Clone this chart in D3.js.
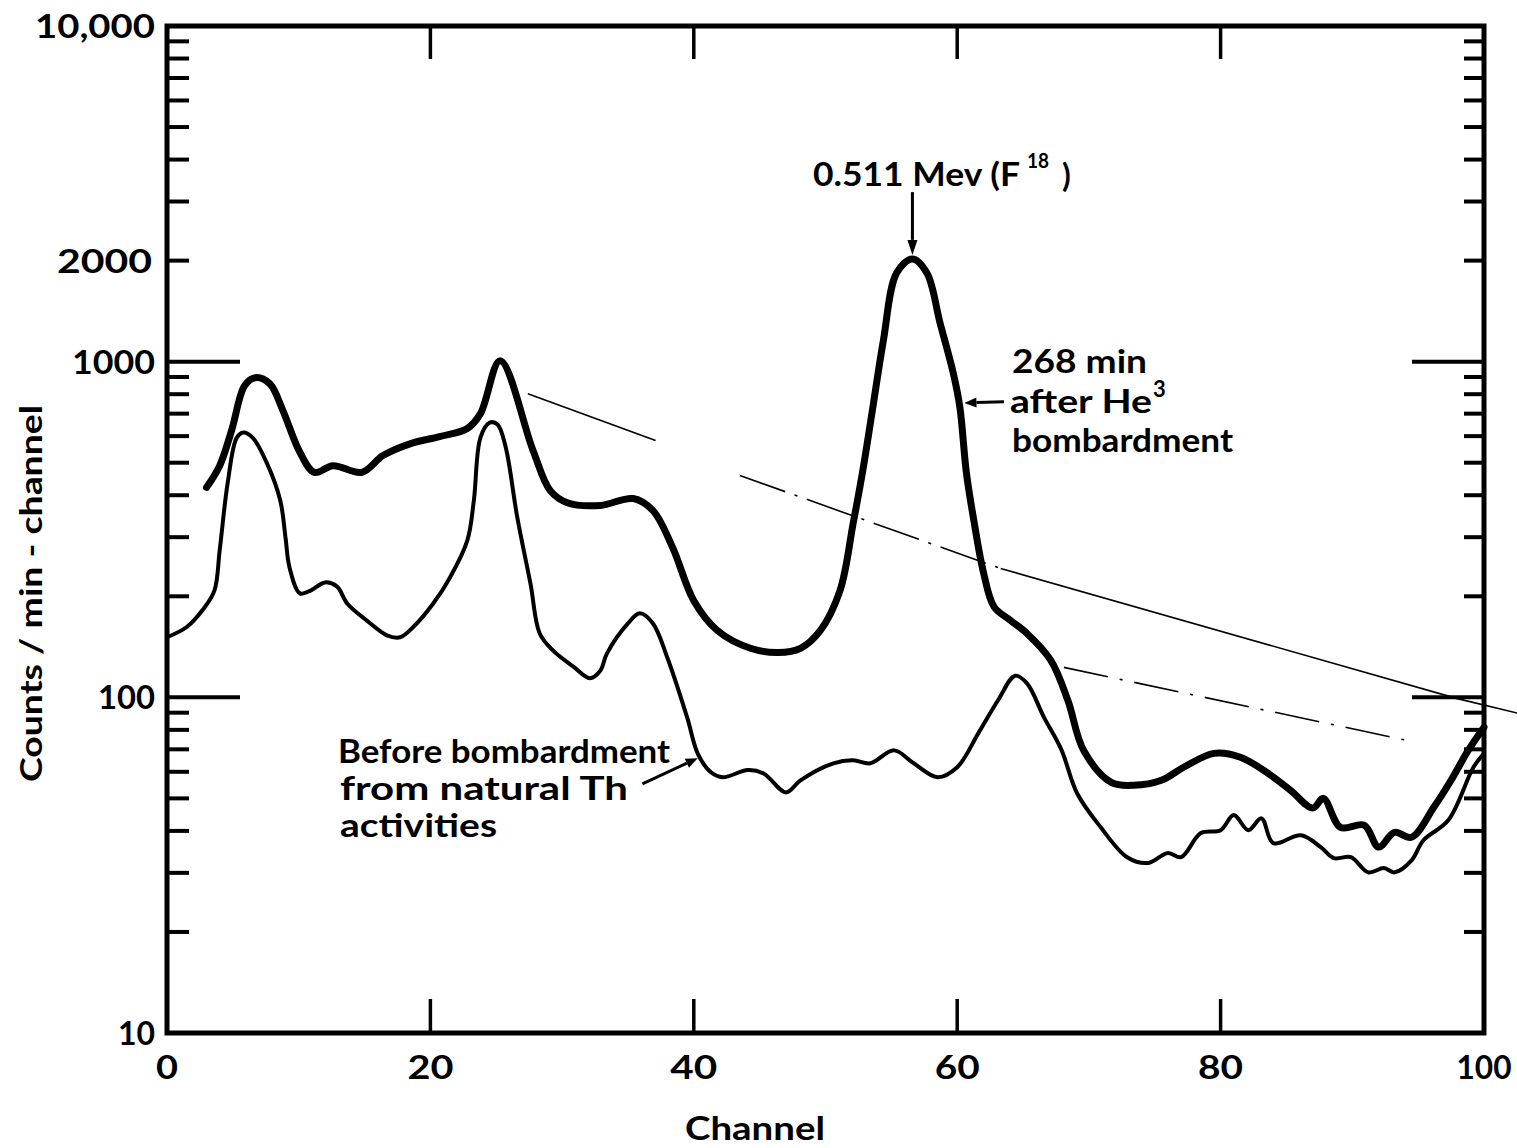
<!DOCTYPE html>
<html><head><meta charset="utf-8">
<script src="https://cdn.jsdelivr.net/npm/d3@7"></script>
<style>
body{margin:0;background:#fff}
svg{display:block}
text{font-family:Lato,"DejaVu Sans",sans-serif;font-weight:700;fill:#000}
</style>
</head><body>
<svg id="chart" width="1517" height="1148"></svg>
<script>
// ---- data ----
const afterChannels = [3.0,4.0,4.9,5.9,6.7,7.8,8.8,10.1,11.2,12.6,14.8,16.4,18.5,20.7,22.8,23.8,25.3,27.8,29.1,30.4,32.9,35.4,36.9,38.4,40.0,41.8,44.3,46.4,48.1,49.6,51.1,52.1,52.8,53.6,54.4,55.4,56.6,57.7,58.7,59.7,60.2,60.7,61.3,62.0,62.8,64.0,65.3,67.1,68.4,69.6,71.7,73.4,75.5,77.2,79.5,81.5,83.6,85.3,87.0,87.8,89.1,90.9,92.0,93.2,94.5,96.2,97.5,98.8,100];
const afterCounts   = [422,490,623,849,896,860,715,536,468,490,468,525,570,598,632,700,1007,543,413,380,373,391,360,279,194,158,140,136,140,158,208,330,466,733,1160,1837,2023,1837,1303,925,733,466,330,235,186,170,155,129,98,69.5,55.8,54.7,56.6,61.9,68.1,66.3,59.4,52.9,46.8,50.0,41.0,41.6,35.8,39.6,38.3,47.1,56.6,69.5,81.5];

const beforeChannels = [0,1.5,2.7,3.6,4.0,4.6,5.3,5.8,6.5,7.6,8.6,9.0,9.3,10.1,10.9,12.0,12.9,13.7,15.2,16.7,17.7,18.7,20.2,21.5,22.8,23.3,23.8,24.5,25.1,25.7,26.6,27.6,28.3,29.3,30.9,32.1,32.9,33.4,35.0,35.9,36.9,38.0,39.5,40.3,41.3,42.2,44.1,45.3,47.0,48.1,50.6,52.1,53.4,55.2,56.7,58.5,60.0,61.6,63.1,64.4,65.3,66.6,67.9,69.1,70.9,72.9,74.5,76.0,77.0,78.5,80.0,81.0,82.1,83.1,84.0,86.1,87.6,88.6,89.9,91.2,92.4,93.2,94.5,95.4,97.3,99.2,100];
const beforeCounts   = [151,162,182,208,274,433,594,615,594,497,386,299,244,204,208,220,214,190,169,153,151,162,190,228,293,386,594,658,650,560,343,218,155,138,123,114,120,135,166,178,166,131,87,68,59.8,57.8,60.7,59.3,52.1,56.6,63.6,64.9,63.6,69.5,63.6,57.8,61.9,78.1,98,116,110,87,70,51.8,41.0,33.4,32.1,34.4,33.4,39.4,40.2,44.6,40.2,43.6,36.8,38.8,35.8,33.2,33.4,30.1,31.0,30.1,32.7,37.5,43.1,61.9,68.1];

// faint guide lines on the sheet: [channel, counts]
const guideSolidUpper = [[27.4,803],[37.1,582]];
const guideDashUpper  = [[43.5,458],[63.3,242]];
const guideSolidLower = [[63.3,242],[97.9,99.3],[102.6,89.6]];
const guideDashLower  = [[68.1,122.8],[94.1,74.5]];

const xTickValues = [0,20,40,60,80,100];
const xTickLabels = ["0","20","40","60","80","100"];
const yLabelValues = [10,100,1000,2000,10000];
const yLabelTexts  = ["10","100","1000","2000","10,000"];
const yLongTicks   = [100,1000];

// ---- layout ----
const svg = d3.select("#chart");
const L = 167, R = 1484, T = 26, B = 1033;
const x = d3.scaleLinear().domain([0,100]).range([L,R]);
const y = d3.scaleLog().domain([10,10000]).range([B,T]);

// frame
svg.append("rect").attr("x",L).attr("y",T).attr("width",R-L).attr("height",B-T)
  .attr("fill","none").attr("stroke","#000").attr("stroke-width",5);

// log ticks left & right
const yt = y.ticks().filter(v => v > 10 && v < 10000);
yt.forEach(v => {
  const long = yLongTicks.includes(v);
  svg.append("line").attr("x1",L).attr("x2",L + (long?73:22))
    .attr("y1",y(v)).attr("y2",y(v)).attr("stroke","#000").attr("stroke-width",4);
  svg.append("line").attr("x1",R).attr("x2",R - (long?72:20))
    .attr("y1",y(v)).attr("y2",y(v)).attr("stroke","#000").attr("stroke-width",4);
});
// x ticks top & bottom
xTickValues.filter(v => v > 0 && v < 100).forEach(v => {
  svg.append("line").attr("x1",x(v)).attr("x2",x(v)).attr("y1",T).attr("y2",T+33)
    .attr("stroke","#000").attr("stroke-width",3.5);
  svg.append("line").attr("x1",x(v)).attr("x2",x(v)).attr("y1",B).attr("y2",B-34)
    .attr("stroke","#000").attr("stroke-width",3.5);
});

// tick labels
const yLabW = {"10":37,"100":57,"1000":83,"2000":95,"10,000":120};
yLabelValues.forEach((v,i) => {
  const t = yLabelTexts[i], w = yLabW[t];
  const endX = t === "2000" ? 152 : 155;
  svg.append("text").attr("x",endX - w).attr("y",y(v)+12)
    .attr("font-size",33).attr("textLength",w).attr("lengthAdjust","spacingAndGlyphs").text(t);
});
const xLabW = {"0":22,"20":46,"40":47,"60":45,"80":45,"100":55};
xTickValues.forEach((v,i) => {
  const t = xTickLabels[i], w = xLabW[t];
  svg.append("text").attr("x",x(v)-w/2).attr("y",1079)
    .attr("font-size",33).attr("textLength",w).attr("lengthAdjust","spacingAndGlyphs").text(t);
});

// axis titles
svg.append("text").attr("x",685).attr("y",1140).attr("font-size",33)
  .attr("textLength",140).attr("lengthAdjust","spacingAndGlyphs").text("Channel");
svg.append("text").attr("transform","translate(42,782) rotate(-90)").attr("font-size",31)
  .attr("textLength",377).attr("lengthAdjust","spacingAndGlyphs").text("Counts / min - channel");

// guide lines
const gl = d3.line().x(d => x(d[0])).y(d => y(d[1]));
svg.append("path").attr("d",gl(guideSolidUpper)).attr("fill","none").attr("stroke","#000").attr("stroke-width",1.6);
svg.append("path").attr("d",gl(guideDashUpper)).attr("fill","none").attr("stroke","#000").attr("stroke-width",1.6).attr("stroke-dasharray","48 10 3 10");
svg.append("path").attr("d",gl(guideSolidLower)).attr("fill","none").attr("stroke","#000").attr("stroke-width",1.6);
svg.append("path").attr("d",gl(guideDashLower)).attr("fill","none").attr("stroke","#000").attr("stroke-width",1.6).attr("stroke-dasharray","45 12 3 12");

// curves
const line = d3.line().x(d => x(d[0])).y(d => y(d[1])).curve(d3.curveCatmullRom.alpha(0.5));
const afterData = afterChannels.map((c,i) => [c, afterCounts[i]]);
const beforeData = beforeChannels.map((c,i) => [c, beforeCounts[i]]);
svg.append("path").attr("d",line(beforeData)).attr("fill","none").attr("stroke","#000")
  .attr("stroke-width",4).attr("stroke-linejoin","round").attr("stroke-linecap","round");
svg.append("path").attr("d",line(afterData)).attr("fill","none").attr("stroke","#000")
  .attr("stroke-width",7).attr("stroke-linejoin","round").attr("stroke-linecap","round");

// arrows (anchored to data coordinates)
function arrow(c0,v0,c1,v1,sw,hl,hw){
  const x0=x(c0),y0=y(v0),x1=x(c1),y1=y(v1);
  const dx=x1-x0, dy=y1-y0, len=Math.hypot(dx,dy), ux=dx/len, uy=dy/len;
  const bx=x1-ux*hl, by=y1-uy*hl;
  svg.append("line").attr("x1",x0).attr("y1",y0).attr("x2",bx).attr("y2",by)
    .attr("stroke","#000").attr("stroke-width",sw);
  svg.append("path").attr("d",`M${x1},${y1}L${bx-uy*hw},${by+ux*hw}L${bx+uy*hw},${by-ux*hw}Z`).attr("fill","#000");
}
arrow(56.6,3200,56.6,2080,3,15,5);
arrow(63.55,760,60.55,753,3,12,5);
arrow(36.1,55.2,40.3,65.9,3,12,5);

// annotation texts
function txt(x0,y0,s,fs,w){
  const t = svg.append("text").attr("x",x0).attr("y",y0).attr("font-size",fs).text(s);
  if (w) t.attr("textLength",w).attr("lengthAdjust","spacingAndGlyphs");
}
txt(813,186,"0.511 Mev (F",32,207);
txt(1027,168,"18",21,22);
txt(1062,187,")",32,null);
txt(1012,373,"268 min",32,135);
txt(1010,413,"after He",32,142);
txt(1153,397,"3",22,null);
txt(1012,452,"bombardment",32,221);
txt(338,763,"Before bombardment",32,332);
txt(340,800,"from natural Th",32,288);
txt(340,837,"activities",32,157);
</script>
</body></html>
